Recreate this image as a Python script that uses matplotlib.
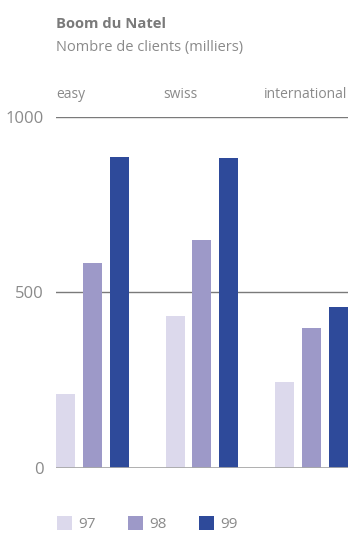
import matplotlib.pyplot as plt
from matplotlib.patches import Patch

plt.rcParams["font.family"] = ["Open Sans", "DejaVu Sans"]

categories = ["easy", "swiss", "international"]
years = ["97", "98", "99"]
values_97 = [211, 433, 245]
values_98 = [583, 649, 399]
values_99 = [887, 884, 458]
yticks = [0, 500, 1000]

colors = ["#dcd9ec", "#9d99c8", "#2e4a9a"]
text_gray = "#8a8a8a"

fig = plt.figure(figsize=(3.5, 5.34), dpi=100)
ax = fig.add_axes([0.16, 0.1236, 0.834, 0.6574])

width = 0.173
step = 0.245
for i, (vals, col) in enumerate(zip([values_97, values_98, values_99], colors)):
    xs = [g + (i - 1) * step for g in range(len(categories))]
    ax.bar(xs, vals, width=width, color=col, zorder=2)

ax.set_xlim(-0.332, 2.332)
ax.set_ylim(0, 1000)

# grid lines
ax.axhline(1000, color="#7a7a7a", lw=1, zorder=1)
ax.axhline(500, color="#7a7a7a", lw=1, zorder=1)
ax.axhline(0, color="#a8a8a8", lw=2, zorder=3)

for s in ax.spines.values():
    s.set_visible(False)
ax.set_xticks([])
ax.set_yticks(yticks)
ax.set_yticklabels([str(v) for v in yticks], fontsize=12, color=text_gray)
ax.tick_params(axis="y", length=0, pad=9)

# category labels above the plot
label_x = [-0.332, 0.645, 1.565]
for x, name in zip(label_x, categories):
    ax.text(x, 1055, name, ha="left", va="baseline", fontsize=10,
            color=text_gray, clip_on=False)

fig.text(0.16, 0.948, "Boom du Natel", fontsize=10.6, fontweight="bold",
         color="#7a7a7a", ha="left", va="baseline")
fig.text(0.16, 0.905, "Nombre de clients (milliers)", fontsize=10.5,
         color=text_gray, ha="left", va="baseline")

handles = [Patch(facecolor=c, edgecolor="none") for c in colors]
fig.legend(handles, years, loc="lower left", bbox_to_anchor=(0.159, 0.0),
           ncol=3, frameon=False, fontsize=11, labelcolor=text_gray,
           handlelength=1.0, handleheight=1.0, handletextpad=0.4,
           columnspacing=2.1, borderpad=0, borderaxespad=0.1)

fig.savefig("out.png", dpi=100)
